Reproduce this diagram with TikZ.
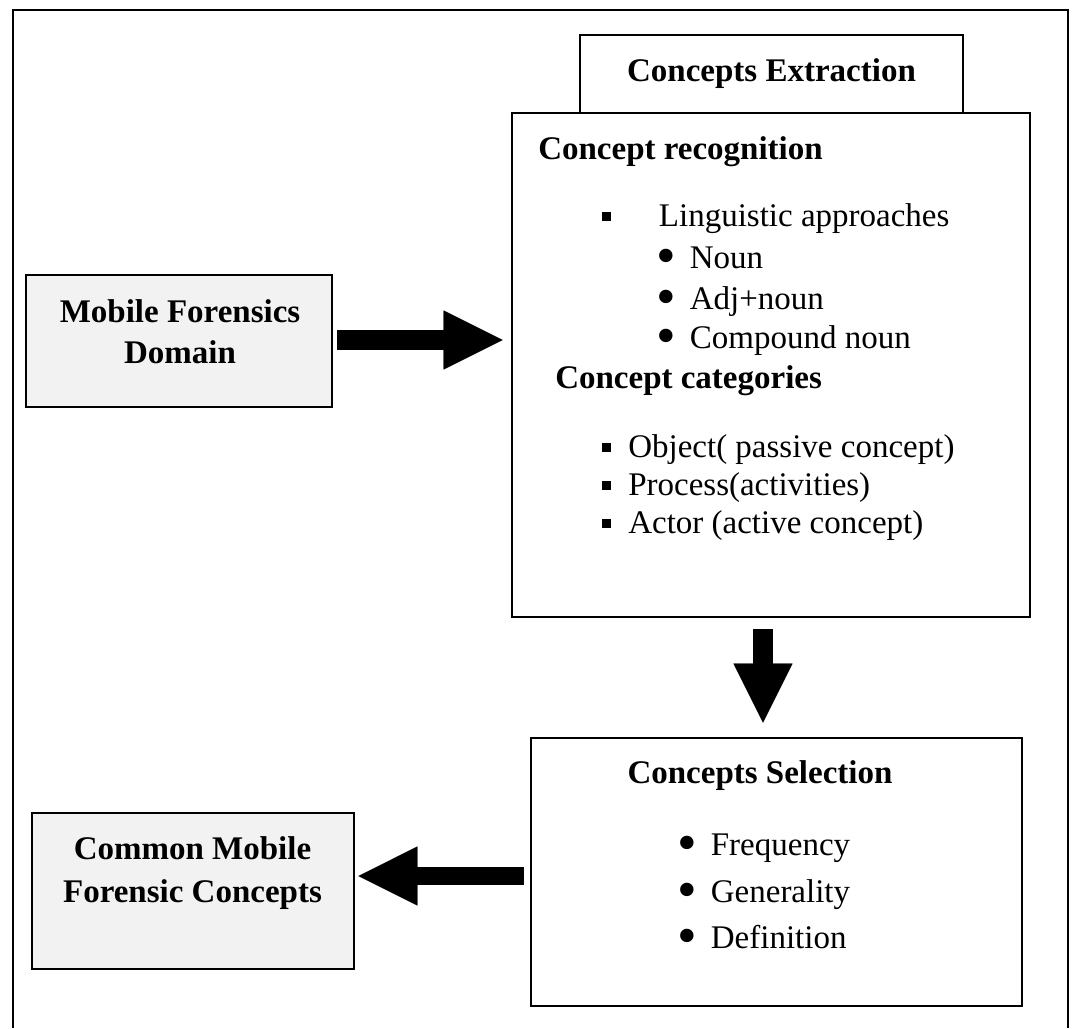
\documentclass[tikz,border=0pt]{standalone}
\usepackage{fontspec}
\usepackage{graphicx}
\setmainfont{Liberation Serif}
\usetikzlibrary{arrows.meta,calc}
\definecolor{boxgray}{HTML}{F2F2F2}
\newcommand{\sqbul}{\rule[4pt]{6.5pt}{6.5pt}}
\newcommand{\rdbul}{\makebox[8.7pt][c]{\smash{\raisebox{-5pt}{\scalebox{1.7}{\textbullet}}}}}
\begin{document}
\begin{tikzpicture}[x=0.75pt,y=-0.75pt,
	every node/.style={inner sep=0pt,font=\fontsize{24.75}{30}\selectfont},
	box/.style={draw,line width=2pt},
	head/.style={font=\fontsize{24.75}{30}\selectfont\bfseries},
	item/.style={anchor=base west},
	blockarrow/.style={line width=#1,-{Triangle[length=44.25pt,width=44.25pt,line width=0.1pt]}}]
	\useasboundingbox (0,0) rectangle (1073,1028);
	\draw[line width=1.8pt] (13,1028)--(13,10)--(1068,10)--(1068,1028);
	% boxes
	\node[box,fill=boxgray,minimum width=229.5pt,minimum height=99pt] (mfd) at (179,341) {};
	\node[box,head,minimum width=287.25pt,minimum height=58.5pt] (extract) at (771.5,74) {Concepts Extraction};
	\node[box,fill=white,minimum width=388.5pt,minimum height=378pt] (recog) at (771,365) {};
	\node[box,minimum width=368.25pt,minimum height=201pt] (select) at (776.5,872) {};
	\node[box,fill=boxgray,minimum width=241.5pt,minimum height=117pt] (common) at (193,891) {};
	% texts
	\node[head,anchor=base] (mfdA) at (180,322) {Mobile Forensics};
	\node[head,anchor=base] (mfdB) at (180,363) {Domain};
	\node[head,anchor=base] (comA) at (192.5,859) {Common Mobile};
	\node[head,anchor=base] (comB) at (192.5,902) {Forensic Concepts};
	\node[head,item] (recogT) at (538,159) {Concept recognition};
	\node[item] (ling) at (602,226) {\sqbul\hspace{36pt}Linguistic approaches};
	\node[item] (noun) at (660,268) {\rdbul\hspace{13.5pt}Noun};
	\node[item] (adj) at (660,309) {\rdbul\hspace{13.5pt}Adj+noun};
	\node[item] (comp) at (660,348) {\rdbul\hspace{13.5pt}Compound noun};
	\node[head,item] (catT) at (555,388) {Concept categories};
	\node[item] (obj) at (602,457) {\sqbul\hspace{13pt}Object( passive concept)};
	\node[item] (proc) at (602,495) {\sqbul\hspace{13pt}Process(activities)};
	\node[item] (actor) at (602,533) {\sqbul\hspace{13pt}Actor (active concept)};
	\node[head,anchor=base] (selT) at (760,783) {Concepts Selection};
	\node[item] (freq) at (681,855) {\rdbul\hspace{13.5pt}Frequency};
	\node[item] (gen) at (681,902) {\rdbul\hspace{13.5pt}Generality};
	\node[item] (defi) at (681,948) {\rdbul\hspace{13.5pt}Definition};
	% arrows
	\draw[blockarrow=15pt] ($(mfd.east)+(4,-1)$) -- ($(mfd.east -| recog.west)+(-8,-1)$);
	\draw[blockarrow=15pt] ($(recog.south)+(-8,11)$) -- ($(recog.south |- select.north)+(-8,-14)$);
	\draw[blockarrow=13.5pt] ($(select.west)+(-6,4)$) -- ($(select.west -| common.east)+(3,4)$);
\end{tikzpicture}
\end{document}
